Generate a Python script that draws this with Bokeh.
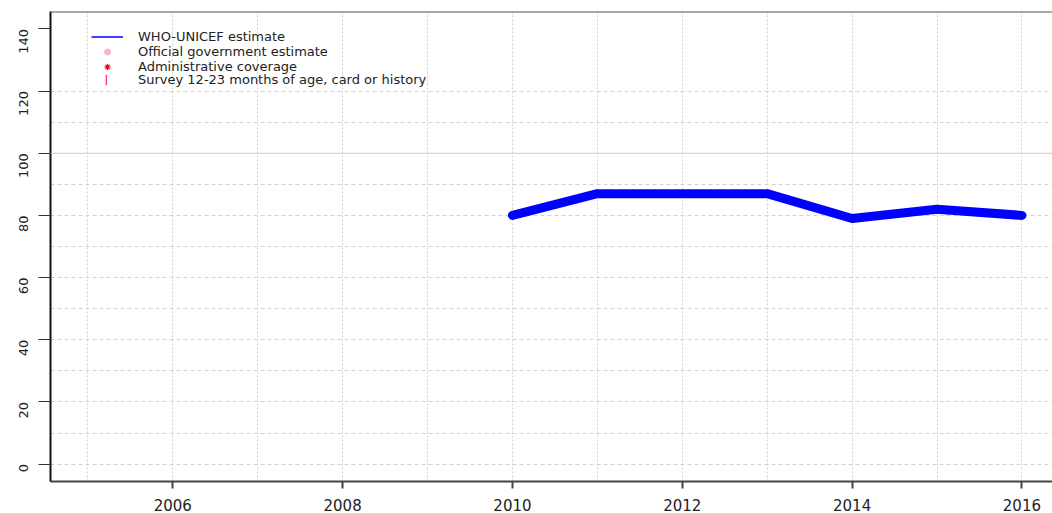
import math
from bokeh.plotting import figure
from bokeh.models import (ColumnDataSource, Range1d, FixedTicker, Span, Legend, LegendItem)
from bokeh.embed import file_html
from bokeh.resources import INLINE

# ---- data ----
who_years = [2010, 2011, 2012, 2013, 2014, 2015, 2016]
who_values = [80, 87, 87, 87, 79, 82, 80]
x_ticks = [2006, 2008, 2010, 2012, 2014, 2016]
x_grid = [2005, 2006, 2007, 2008, 2009, 2010, 2011, 2012, 2013, 2014, 2015, 2016]
y_ticks = [0, 20, 40, 60, 80, 100, 120, 140]
y_grid = [0, 10, 20, 30, 40, 50, 60, 70, 80, 90, 110, 120]
ref_line = 100
legend_labels = ["WHO-UNICEF estimate", "Official government estimate",
                 "Administrative coverage", "Survey 12-23 months of age, card or history"]

FONT = "DejaVu Sans"

p = figure(width=1052, height=513, output_backend="svg", toolbar_location=None,
           x_range=Range1d(2004.56, 2016.36), y_range=Range1d(-5.6, 145.6),
           min_border_left=50, min_border_right=0, min_border_top=11, min_border_bottom=30)
p.outline_line_color = None
p.background_fill_color = "white"

# grids
p.xgrid.ticker = FixedTicker(ticks=x_grid)
p.xgrid.grid_line_color = "#d3d3d3"
p.xgrid.grid_line_dash = "2 2"
p.xgrid.grid_line_width = 1
p.ygrid.ticker = FixedTicker(ticks=y_grid)
p.ygrid.grid_line_color = "#d3d3d3"
p.ygrid.grid_line_dash = "4 3"
p.ygrid.grid_line_width = 1

# axes
p.xaxis.ticker = FixedTicker(ticks=x_ticks)
p.xaxis.axis_line_color = "#444444"
p.xaxis.axis_line_width = 2
p.xaxis.major_tick_line_color = "#444444"
p.xaxis.major_tick_line_width = 2
p.xaxis.major_tick_out = 7
p.xaxis.major_tick_in = 0
p.xaxis.minor_tick_line_color = None
p.xaxis.major_label_standoff = 10
p.xaxis.major_label_text_line_height = 0.8
p.xaxis.major_label_text_font = FONT
p.xaxis.major_label_text_font_size = "15px"
p.xaxis.major_label_text_color = "#222222"

p.yaxis.ticker = FixedTicker(ticks=y_ticks)
p.yaxis.axis_line_color = "#111111"
p.yaxis.axis_line_width = 2
p.yaxis.major_tick_line_color = "#333333"
p.yaxis.major_tick_line_width = 1
p.yaxis.major_tick_out = 12
p.yaxis.major_tick_in = 0
p.yaxis.minor_tick_line_color = None
p.yaxis.major_label_orientation = math.pi / 2
p.yaxis.major_label_standoff = 15
p.yaxis.major_label_text_font = FONT
p.yaxis.major_label_text_font_size = "13px"
p.yaxis.major_label_text_color = "#222222"

# top border and reference line
p.add_layout(Span(location=145.6, dimension="width", line_color="#555555", line_width=2))
p.add_layout(Span(location=ref_line, dimension="width", line_color="#f9b3c0", line_width=1))

# data line
src = ColumnDataSource(dict(x=who_years, y=who_values))
p.line("x", "y", source=src, line_color="#0000ff", line_width=9,
       line_join="round", line_cap="round")

# legend proxies (no visible data points)
nan = float("nan")
def proxy():
    return ColumnDataSource(dict(x=[nan], y=[nan]))

r1 = p.line("x", "y", source=proxy(), line_color="#0000ff", line_width=1.5)
r2 = p.scatter("x", "y", source=proxy(), marker="circle", size=6,
               fill_color="#fbb4c4", line_color="#fbb4c4")
r3 = p.scatter("x", "y", source=proxy(), marker="asterisk", size=6,
               line_color="#ff0000", line_width=1.2)
r4 = p.vbar(x="x", top="y", width=0.1, source=proxy(),
            fill_color="#ff3366", line_color=None)

# (renderer, y offset, x offset, glyph width, glyph height, label standoff)
legend_specs = [(r1, 437, 41, 32, 15, 15),
                (r2, 422, 41, 32, 15, 15),
                (r3, 407, 41, 32, 15, 15),
                (r4, 393.8, 55, 2, 13, 31)]
for lab, (r, ly, lx, gw, gh, st) in zip(legend_labels, legend_specs):
    lg = Legend(items=[LegendItem(label=lab, renderers=[r])],
                location=(lx, ly), padding=0, margin=0, spacing=0,
                glyph_width=gw, glyph_height=gh, label_height=13,
                label_standoff=st, border_line_color=None,
                background_fill_alpha=0,
                label_text_font=FONT, label_text_font_size="13px",
                label_text_color="#222222")
    p.add_layout(lg)

open("out.html", "w").write(file_html(p, INLINE))
